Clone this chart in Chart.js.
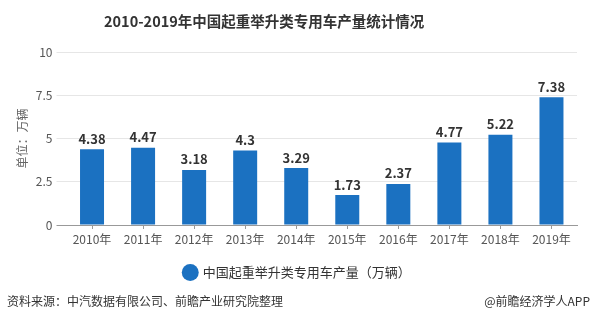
<!DOCTYPE html>
<html lang="zh">
<head>
    <meta charset="UTF-8">
    <title>2010-2019年中国起重举升类专用车产量统计情况</title>
    <script src="https://cdn.jsdelivr.net/npm/chart.js"></script>
    <style>
        body { margin: 0; background: #fff; font-family: "Noto Sans CJK SC", sans-serif; }
        #wrap { position: relative; width: 595px; height: 324px; overflow: hidden; }
        #title { position: absolute; left: 104px; top: 10px; font-size: 14.5px; font-weight: bold; color: #333; white-space: nowrap; }
        #source { position: absolute; left: 7px; top: 292px; font-size: 12px; color: #333; white-space: nowrap; }
        #brand { position: absolute; right: 5px; top: 292px; font-size: 12px; color: #333; white-space: nowrap; }
        canvas { position: absolute; left: 0; top: 0; }
    </style>
</head>
<body>
<div id="wrap">
    <canvas id="chart" width="595" height="324"></canvas>
    <div id="title">2010-2019年中国起重举升类专用车产量统计情况</div>
    <div id="source">资料来源：中汽数据有限公司、前瞻产业研究院整理</div>
    <div id="brand">@前瞻经济学人APP</div>
</div>
<script>
    const years = ['2010年', '2011年', '2012年', '2013年', '2014年', '2015年', '2016年', '2017年', '2018年', '2019年'];
    const output = [4.38, 4.47, 3.18, 4.3, 3.29, 1.73, 2.37, 4.77, 5.22, 7.38];
    const seriesName = '中国起重举升类专用车产量（万辆）';
    const yTitle = '单位：万辆';

    const fontFamily = '"Noto Sans CJK SC", "Noto Sans", sans-serif';
    const barColor = '#1b71c1';

    // value labels above each bar
    const barLabels = {
        id: 'barLabels',
        afterDatasetsDraw(chart) {
            const ctx = chart.ctx;
            const meta = chart.getDatasetMeta(0);
            ctx.save();
            ctx.font = 'bold 13px ' + fontFamily;
            ctx.fillStyle = '#333';
            ctx.textAlign = 'center';
            ctx.textBaseline = 'bottom';
            meta.data.forEach((bar, i) => {
                ctx.fillText(String(output[i]), bar.x, bar.y - 4);
            });
            ctx.restore();
        }
    };

    // nudge the legend a little to the right, like the original
    const legendShift = {
        id: 'legendShift',
        afterLayout(chart) {
            chart.legend.left += 9;
            chart.legend.right += 9;
        }
    };

    new Chart(document.getElementById('chart'), {
        type: 'bar',
        data: {
            labels: years,
            datasets: [{
                label: seriesName,
                data: output,
                backgroundColor: barColor,
                barPercentage: 0.94,
                categoryPercentage: 0.5
            }]
        },
        options: {
            responsive: false,
            animation: false,
            layout: { padding: { left: 0, right: 18, top: 52, bottom: 35 } },
            plugins: {
                title: { display: false },
                tooltip: { enabled: false },
                legend: {
                    position: 'bottom',
                    labels: {
                        usePointStyle: true,
                        pointStyle: 'circle',
                        boxWidth: 12,
                        boxHeight: 12,
                        padding: 10,
                        color: '#333',
                        font: { family: fontFamily, size: 13 }
                    }
                }
            },
            scales: {
                x: {
                    afterFit(scale) { scale.height = 31; },
                    grid: {
                        offset: false,
                        drawOnChartArea: false,
                        drawTicks: true,
                        tickLength: 4,
                        color: '#999'
                    },
                    border: { display: true, color: '#999' },
                    ticks: {
                        color: '#555',
                        padding: 3,
                        font: { family: fontFamily, size: 12 }
                    }
                },
                y: {
                    min: 0,
                    max: 10,
                    afterFit(scale) { scale.width = 66.5; },
                    ticks: {
                        stepSize: 2.5,
                        color: '#555',
                        padding: 4,
                        font: { family: fontFamily, size: 12 }
                    },
                    grid: {
                        color: c => c.tick && c.tick.value === 0 ? '#999' : '#e6e6e6',
                        tickLength: 10
                    },
                    border: { display: false },
                    title: {
                        display: true,
                        text: yTitle,
                        color: '#666',
                        padding: { top: 15, bottom: 0 },
                        font: { family: fontFamily, size: 12 }
                    }
                }
            }
        },
        plugins: [barLabels, legendShift]
    });
</script>
</body>
</html>
